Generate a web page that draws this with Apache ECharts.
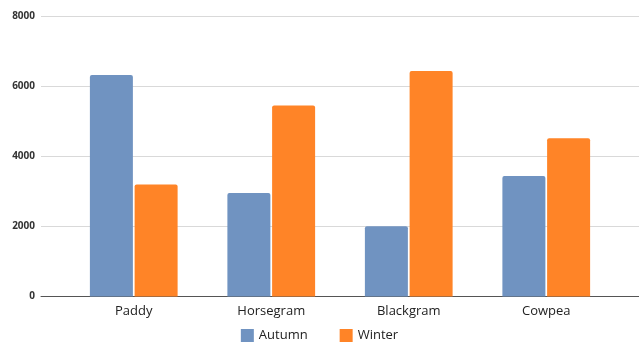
<!DOCTYPE html>
<html>
<head>
<meta charset="utf-8">
<script src="https://cdn.jsdelivr.net/npm/echarts@6/dist/echarts.min.js"></script>
<style>
  html, body { margin: 0; padding: 0; background: #ffffff; }
  #chart { width: 639px; height: 345px; }
</style>
</head>
<body>
<div id="chart"></div>
<script>
// Crop production by season
const categories = ['Paddy', 'Horsegram', 'Blackgram', 'Cowpea'];
const autumn = [6330, 2960, 2010, 3440];
const winter = [3200, 5460, 6440, 4520];
const yTicks = { min: 0, max: 8000, step: 2000 };

const chart = echarts.init(document.getElementById('chart'), null, { renderer: 'canvas' });
const gridTop = 16.5, gridBottom = 48.5;

chart.setOption({
  animation: false,
  backgroundColor: '#ffffff',
  legend: {
    data: ['Autumn', 'Winter'],
    bottom: 3,
    padding: 0,
    left: 'center',
    itemWidth: 13,
    itemHeight: 13,
    itemGap: 32,
    icon: 'rect',
    textStyle: { fontFamily: 'Open Sans', fontSize: 13, color: '#222' }
  },
  grid: [
    // full-width grid carrying the value gridlines and the baseline
    { left: 41, right: 0, top: gridTop, bottom: gridBottom },
    // inner grid holding the bar groups
    { left: 65, right: 24, top: gridTop, bottom: gridBottom }
  ],
  xAxis: [
    {
      gridIndex: 0, type: 'value', min: 0, max: 1,
      axisLine: { show: true, lineStyle: { color: '#555', width: 1 } },
      axisTick: { show: false }, axisLabel: { show: false }, splitLine: { show: false }
    },
    {
      gridIndex: 1, type: 'category', data: categories,
      axisLine: { show: false }, axisTick: { show: false },
      axisLabel: { margin: 8, fontFamily: 'Open Sans', fontSize: 13, color: '#222' }
    }
  ],
  yAxis: [
    {
      gridIndex: 0, type: 'value', min: yTicks.min, max: yTicks.max, interval: yTicks.step,
      axisLine: { show: false }, axisTick: { show: false },
      axisLabel: {
        margin: 6, fontFamily: 'Open Sans', fontSize: 10, fontWeight: 'bold', color: '#333',
        formatter: (v) => String(v)
      },
      splitLine: { lineStyle: { color: '#d9d9d9', width: 1 } }
    },
    {
      gridIndex: 1, type: 'value', min: yTicks.min, max: yTicks.max, interval: yTicks.step,
      show: false, splitLine: { show: false }
    }
  ],
  series: [
    {
      name: 'Autumn', type: 'bar', xAxisIndex: 1, yAxisIndex: 1,
      data: autumn, barWidth: 43, barGap: '4%',
      itemStyle: { color: '#7093c1', borderRadius: [2, 2, 0, 0] }
    },
    {
      name: 'Winter', type: 'bar', xAxisIndex: 1, yAxisIndex: 1,
      data: winter, barWidth: 43, barGap: '4%',
      itemStyle: { color: '#ff8427', borderRadius: [2, 2, 0, 0] }
    }
  ]
});
</script>
</body>
</html>
